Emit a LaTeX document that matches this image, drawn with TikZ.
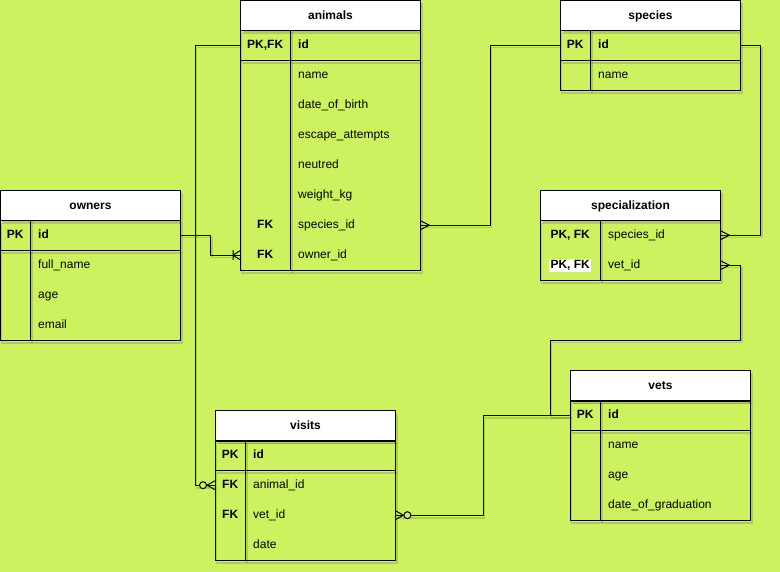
\documentclass[tikz,border=0pt]{standalone}
\usepackage{fontspec}
\setmainfont{Liberation Sans}
\usetikzlibrary{backgrounds}
\definecolor{bg}{RGB}{205,242,95}
\newcommand\erow[8]{%
  \node[keycell, minimum width=#4] (#1-k#2) at (#3,#6) {#7};
  \node[fieldcell, text width=#5] (#1-f#2) at (#3+#4,#6) {#8};
}
\begin{document}
\begin{tikzpicture}[x=1pt,y=-1pt,
  every node/.style={font=\fontsize{12}{14}\selectfont},
  ln/.style={draw=black, line width=1pt,
    preaction={draw=black, opacity=0.14, line width=1.6pt,
      transform canvas={xshift=1.5pt,yshift=-2.5pt}}},
  hdr/.style={draw=black, line width=1pt, fill=white,
    preaction={fill=black, opacity=0.14, transform canvas={xshift=2pt,yshift=-3pt}},
    minimum width=180, minimum height=30, inner sep=0, anchor=north west,
    text height=9.6pt, text depth=2.2pt,
    font=\fontsize{12}{14}\selectfont\bfseries},
  keycell/.style={minimum height=30, inner sep=0, anchor=north west,
    text height=9.6pt, text depth=2.2pt,
    font=\fontsize{12}{14}\selectfont\bfseries},
  fieldcell/.style={minimum height=30, inner xsep=8, inner ysep=0,
    text height=9.6pt, text depth=2.2pt,
    anchor=north west, align=left},
  many/.pic={\draw[line width=1pt] (-9,0) -- (0,-4.5) (-9,0) -- (0,4.5);},
  onemany/.pic={\draw[line width=1pt] (-7,0) -- (0,-4.5) (-7,0) -- (0,4.5) (-7,-5) -- (-7,5);},
  zeromany/.pic={\draw[line width=1pt] (-8,0) -- (0,-4.5) (-8,0) -- (0,4.5);
    \draw[line width=1pt, fill=bg] (-12,0) circle[radius=3.5pt];},
]
\useasboundingbox (0,0) rectangle (780,572);
\begin{pgfonlayer}{background}
  \fill[bg] (0,0) rectangle (780,572);
\end{pgfonlayer}

% animals
\node[hdr] (an-h) at (240,0) {animals};
\erow{an}{1}{240}{50}{114pt}{30}{PK,FK}{\textbf{id}}
\erow{an}{2}{240}{50}{114pt}{60}{}{name}
\erow{an}{3}{240}{50}{114pt}{90}{}{date\_of\_birth}
\erow{an}{4}{240}{50}{114pt}{120}{}{escape\_attempts}
\erow{an}{5}{240}{50}{114pt}{150}{}{neutred}
\erow{an}{6}{240}{50}{114pt}{180}{}{weight\_kg}
\erow{an}{7}{240}{50}{114pt}{210}{FK}{species\_id}
\erow{an}{8}{240}{50}{114pt}{240}{FK}{owner\_id}
\draw[ln] (an-h.south west) rectangle (an-f8.south east);
\draw[ln] (an-k1.north east) -- (an-k8.south east);
\draw[ln] (an-k1.south west) -- (an-f1.south east);

% species
\node[hdr] (sp-h) at (560,0) {species};
\erow{sp}{1}{560}{30}{134pt}{30}{PK}{\textbf{id}}
\erow{sp}{2}{560}{30}{134pt}{60}{}{name}
\draw[ln] (sp-h.south west) rectangle (sp-f2.south east);
\draw[ln] (sp-k1.north east) -- (sp-k2.south east);
\draw[ln] (sp-k1.south west) -- (sp-f1.south east);

% owners
\node[hdr] (ow-h) at (0,190) {owners};
\erow{ow}{1}{0}{30}{134pt}{220}{PK}{\textbf{id}}
\erow{ow}{2}{0}{30}{134pt}{250}{}{full\_name}
\erow{ow}{3}{0}{30}{134pt}{280}{}{age}
\erow{ow}{4}{0}{30}{134pt}{310}{}{email}
\draw[ln] (ow-h.south west) rectangle (ow-f4.south east);
\draw[ln] (ow-k1.north east) -- (ow-k4.south east);
\draw[ln] (ow-k1.south west) -- (ow-f1.south east);

% specialization
\node[hdr] (sz-h) at (540,190) {specialization};
\erow{sz}{1}{540}{60}{104pt}{220}{PK, FK}{species\_id}
\erow{sz}{2}{540}{60}{104pt}{250}{{\setlength\fboxsep{1.2pt}\colorbox{white}{PK, FK}}}{vet\_id}
\draw[ln] (sz-h.south west) rectangle (sz-f2.south east);
\draw[ln] (sz-k1.north east) -- (sz-k2.south east);

% vets
\node[hdr] (ve-h) at (570,370) {vets};
\erow{ve}{1}{570}{30}{134pt}{400}{PK}{\textbf{id}}
\erow{ve}{2}{570}{30}{134pt}{430}{}{name}
\erow{ve}{3}{570}{30}{134pt}{460}{}{age}
\erow{ve}{4}{570}{30}{134pt}{490}{}{date\_of\_graduation}
\draw[ln] (ve-h.south west) rectangle (ve-f4.south east);
\draw[ln] (ve-k1.north east) -- (ve-k4.south east);
\draw[ln] (ve-k1.south west) -- (ve-f1.south east);

% visits
\node[hdr] (vi-h) at (215,410) {visits};
\erow{vi}{1}{215}{30}{134pt}{440}{PK}{\textbf{id}}
\erow{vi}{2}{215}{30}{134pt}{470}{FK}{animal\_id}
\erow{vi}{3}{215}{30}{134pt}{500}{FK}{vet\_id}
\erow{vi}{4}{215}{30}{134pt}{530}{}{date}
\draw[ln] (vi-h.south west) rectangle (vi-f4.south east);
\draw[ln] (vi-k1.north east) -- (vi-k4.south east);
\draw[ln] (vi-k1.south west) -- (vi-f1.south east);

% connectors
\draw[ln] (an-k1.west) -- ++(-45,0) |- (vi-k2.west);
\pic at (vi-k2.west) {zeromany};
\draw[ln] (ow-f1.east) -- ++(30,0) |- (an-k8.west);
\pic at (an-k8.west) {onemany};
\draw[ln] (sp-k1.west) -- ++(-70,0) |- (an-f7.east);
\pic[rotate=180] at (an-f7.east) {many};
\draw[ln] (sp-f1.east) -- ++(20,0) |- (sz-f1.east);
\pic[rotate=180] at (sz-f1.east) {many};
\draw[ln] (ve-k1.west) -- ++(-20,0) -- ++(0,-75) -| ([xshift=20pt]sz-f2.east) -- (sz-f2.east);
\pic[rotate=180] at (sz-f2.east) {many};
\draw[ln] (ve-k1.west) -- ++(-87,0) |- (vi-f3.east);
\pic[rotate=180] at (vi-f3.east) {zeromany};
\end{tikzpicture}
\end{document}
